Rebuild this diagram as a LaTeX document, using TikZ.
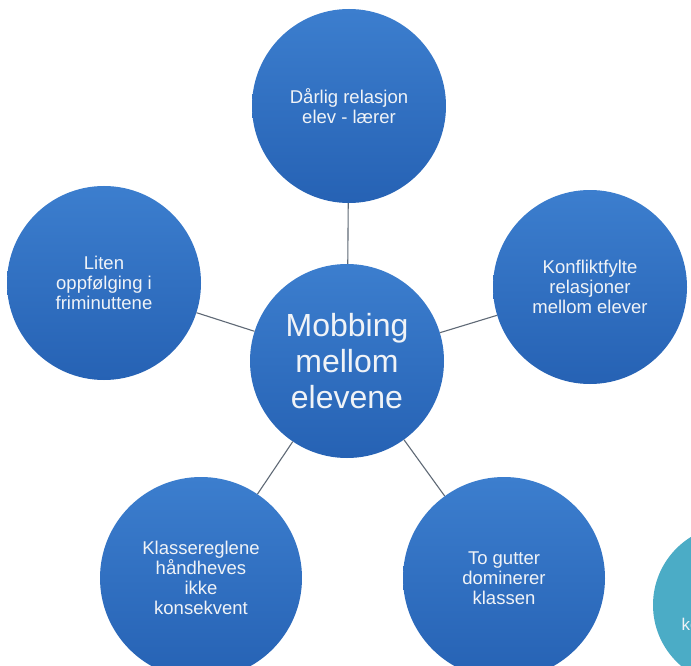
\documentclass[tikz,border=0pt]{standalone}
\usepackage{fontspec}
\setmainfont{Liberation Sans}
\definecolor{bluetop}{RGB}{60,126,206}
\definecolor{bluebot}{RGB}{38,98,180}
\definecolor{teal}{RGB}{75,172,198}
\definecolor{linecol}{RGB}{95,105,118}
\definecolor{txt}{RGB}{240,243,247}
\tikzset{
  bubble/.style={circle, inner sep=0pt, minimum size=194pt, top color=bluetop, bottom color=bluebot, draw=none, text=txt, align=center, font=\fontsize{18.5}{20}\selectfont},
  bigbubble/.style={bubble, minimum size=202pt},
  hub/.style={bubble, minimum size=194pt, font=\fontsize{32}{36}\selectfont},
  link/.style={draw=linecol, line width=1.1pt}
}
\begin{document}
\begin{tikzpicture}[x=1pt,y=-1pt]
\useasboundingbox (0,0) rectangle (691,666);
\clip (0,0) rectangle (691,666);
\fill[white] (0,0) rectangle (691,666);
\node[bubble] (top) at (349,106) {Dårlig relasjon\\elev - lærer};
\node[bubble] (left) at (104,283) {Liten\\oppfølging i\\friminuttene};
\node[bubble] (right) at (590,287) {Konfliktfylte\\relasjoner\\mellom elever};
\node[bigbubble] (bl) at (201,578) {Klassereglene\\håndheves\\ikke\\konsekvent};
\node[bigbubble] (br) at (504,578) {To gutter\\dominerer\\klassen};
\node[hub] (hub) at (347,361) {Mobbing\\mellom\\elevene};
\node[circle, inner sep=0pt, minimum size=160pt, fill=teal] (extra) at (733,605) {};
\node[anchor=base west, text=txt, font=\fontsize{17}{20}\selectfont] (extratxt) at (678,630) {ko};
\draw[link] (hub) -- (top);
\draw[link] (hub) -- (left);
\draw[link] (hub) -- (right);
\draw[link] (hub) -- (bl);
\draw[link] (hub) -- (br);
\end{tikzpicture}
\end{document}
